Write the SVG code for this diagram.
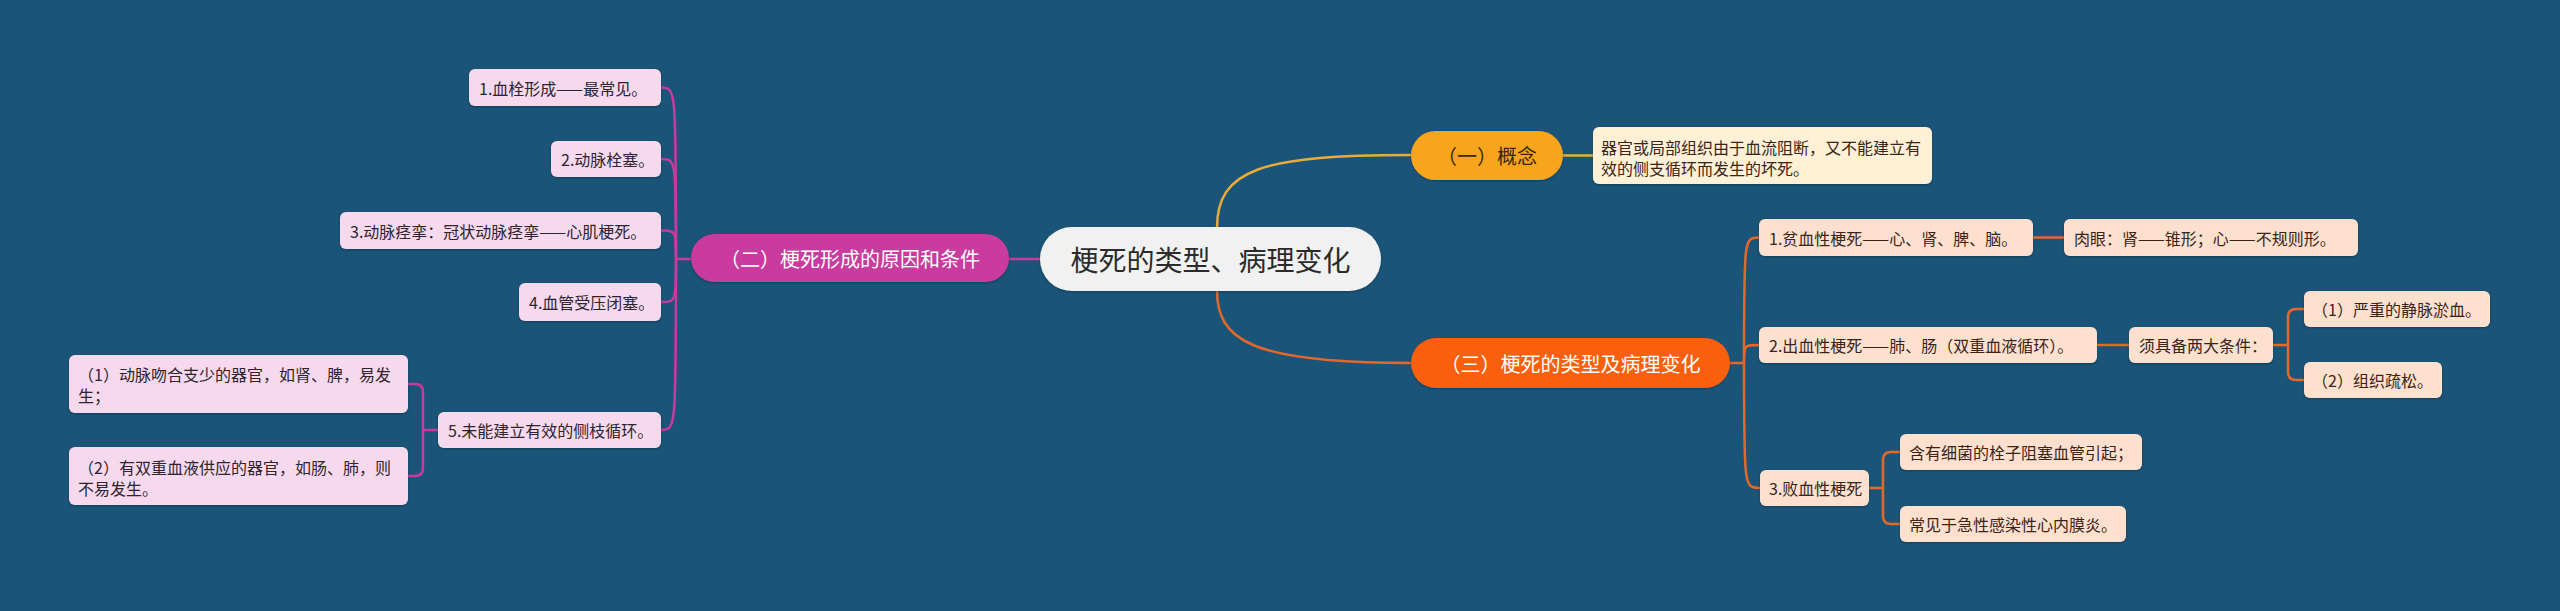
<svg xmlns="http://www.w3.org/2000/svg" width="2560" height="611" viewBox="0 0 2560 611">
<defs>
<filter id="sh" x="-10%" y="-20%" width="120%" height="150%"><feDropShadow dx="0" dy="1" stdDeviation="1" flood-color="#0a2233" flood-opacity="0.45"/></filter>
<style>
text{font-family:"Noto Sans CJK SC","Noto Sans",sans-serif;dominant-baseline:central}
.t16{font-size:16px}
.l{fill:#f6d9ec;filter:url(#sh)}
.r{fill:#fee0cf;filter:url(#sh)}
.lt{fill:#2e2430}
.rt{fill:#3a2418}
.cm{fill:none;stroke:#c93a9e;stroke-width:2.5}
.co{fill:none;stroke:#e5682a;stroke-width:2.5}
.cy{fill:none;stroke:#e9ac3a;stroke-width:2.5}
</style>
</defs>
<rect width="2560" height="611" fill="#1a5478"/>
<g id="connectors">
<path class="cy" d="M1217,228 C1217,170 1260,155 1411,155"/>
<path class="cy" d="M1563,155.5 L1593,155.5"/>
<path class="co" d="M1217,290 C1217,340 1250,363 1411,363"/>
<path class="cm" d="M1009,259 L1040,259"/>
<path class="cm" d="M691,259 L676,259"/>
<path class="cm" d="M676,259 C676,87.5 676,87.5 661,87.5"/>
<path class="cm" d="M676,259 C676,159 676,159 661,159"/>
<path class="cm" d="M676,259 C676,230.5 676,230.5 661,230.5"/>
<path class="cm" d="M676,259 C676,302 676,302 661,302"/>
<path class="cm" d="M676,259 C676,430 676,430 661,430"/>
<path class="cm" d="M438,430 L423,430 M408,384 L415,384 Q423,384 423,392 L423,468 Q423,476 415,476 L408,476"/>
<path class="co" d="M1730,363 L1744,363"/>
<path class="co" d="M1744,363 C1744,237.5 1744,237.5 1759,237.5"/>
<path class="co" d="M1744,363 C1744,345 1744,345 1759,345"/>
<path class="co" d="M1744,363 C1744,488 1744,488 1760,488"/>
<path class="co" d="M2033,237.5 L2064,237.5"/>
<path class="co" d="M2097,345 L2129,345"/>
<path class="co" d="M2273,345 L2288,345 M2304,309 L2296,309 Q2288,309 2288,317 L2288,372 Q2288,380 2296,380 L2304,380"/>
<path class="co" d="M1869,488 L1883,488 M1900,452 L1891,452 Q1883,452 1883,460 L1883,516 Q1883,524 1891,524 L1900,524"/>
</g>
<g id="root">
<rect x="1040" y="227" width="341" height="64" rx="32" fill="#f1f1f1" filter="url(#sh)"/>
<text x="1210.5" y="259" font-size="28" text-anchor="middle" fill="#2b2b2b">梗死的类型、病理变化</text>
</g>
<g id="b1">
<rect x="1411" y="131" width="152" height="49" rx="24.5" fill="#f6a51f" filter="url(#sh)"/>
<text x="1487" y="155.5" font-size="20" text-anchor="middle" fill="#3a2608">（一）概念</text>
</g>
<g id="b1a">
<rect x="1593" y="127" width="339" height="57" rx="6" fill="#fff0d6" filter="url(#sh)"/>
<text class="t16 rt" x="1601" y="147">器官或局部组织由于血流阻断，又不能建立有</text>
<text class="t16 rt" x="1601" y="168">效的侧支循环而发生的坏死。</text>
</g>
<g id="b2">
<rect x="691" y="234" width="318" height="48" rx="24" fill="#c93a9e" filter="url(#sh)"/>
<text x="850" y="258" font-size="20" text-anchor="middle" fill="#ffffff">（二）梗死形成的原因和条件</text>
</g>
<g id="b3">
<rect x="1411" y="338" width="319" height="50" rx="25" fill="#f95f0c" filter="url(#sh)"/>
<text x="1570.5" y="363" font-size="20" text-anchor="middle" fill="#ffffff">（三）梗死的类型及病理变化</text>
</g>
<g id="l1"><rect class="l" x="469" y="69" width="192" height="37" rx="6"/><text class="t16 lt" x="479" y="87.5">1.血栓形成——最常见。</text></g>
<g id="l2"><rect class="l" x="551" y="141" width="110" height="36" rx="6"/><text class="t16 lt" x="561" y="159">2.动脉栓塞。</text></g>
<g id="l3"><rect class="l" x="340" y="212" width="321" height="37" rx="6"/><text class="t16 lt" x="350" y="230.5">3.动脉痉挛：冠状动脉痉挛——心肌梗死。</text></g>
<g id="l4"><rect class="l" x="519" y="283" width="142" height="38" rx="6"/><text class="t16 lt" x="529" y="302">4.血管受压闭塞。</text></g>
<g id="l5"><rect class="l" x="438" y="412" width="223" height="36" rx="6"/><text class="t16 lt" x="448" y="430">5.未能建立有效的侧枝循环。</text></g>
<g id="l5a"><rect class="l" x="69" y="355" width="339" height="58" rx="6"/><text class="t16 lt" x="78" y="374">（1）动脉吻合支少的器官，如肾、脾，易发</text><text class="t16 lt" x="78" y="395">生；</text></g>
<g id="l5b"><rect class="l" x="69" y="447" width="339" height="58" rx="6"/><text class="t16 lt" x="78" y="467">（2）有双重血液供应的器官，如肠、肺，则</text><text class="t16 lt" x="78" y="488">不易发生。</text></g>
<g id="r1"><rect class="r" x="1759" y="219" width="274" height="37" rx="6"/><text class="t16 rt" x="1769" y="237.5">1.贫血性梗死——心、肾、脾、脑。</text></g>
<g id="r1a"><rect class="r" x="2064" y="219" width="294" height="37" rx="6"/><text class="t16 rt" x="2074" y="237.5">肉眼：肾——锥形；心——不规则形。</text></g>
<g id="r2"><rect class="r" x="1759" y="327" width="338" height="36" rx="6"/><text class="t16 rt" x="1769" y="345">2.出血性梗死——肺、肠（双重血液循环）。</text></g>
<g id="r2a"><rect class="r" x="2129" y="327" width="144" height="36" rx="6"/><text class="t16 rt" x="2139" y="345">须具备两大条件：</text></g>
<g id="r2a1"><rect class="r" x="2304" y="291" width="186" height="36" rx="6"/><text class="t16 rt" x="2312" y="309">（1）严重的静脉淤血。</text></g>
<g id="r2a2"><rect class="r" x="2304" y="362" width="138" height="36" rx="6"/><text class="t16 rt" x="2312" y="380">（2）组织疏松。</text></g>
<g id="r3"><rect class="r" x="1760" y="470" width="109" height="36" rx="6"/><text class="t16 rt" x="1769" y="488">3.败血性梗死</text></g>
<g id="r3a"><rect class="r" x="1900" y="434" width="242" height="36" rx="6"/><text class="t16 rt" x="1909" y="452">含有细菌的栓子阻塞血管引起；</text></g>
<g id="r3b"><rect class="r" x="1900" y="506" width="226" height="36" rx="6"/><text class="t16 rt" x="1909" y="524">常见于急性感染性心内膜炎。</text></g>
</svg>
